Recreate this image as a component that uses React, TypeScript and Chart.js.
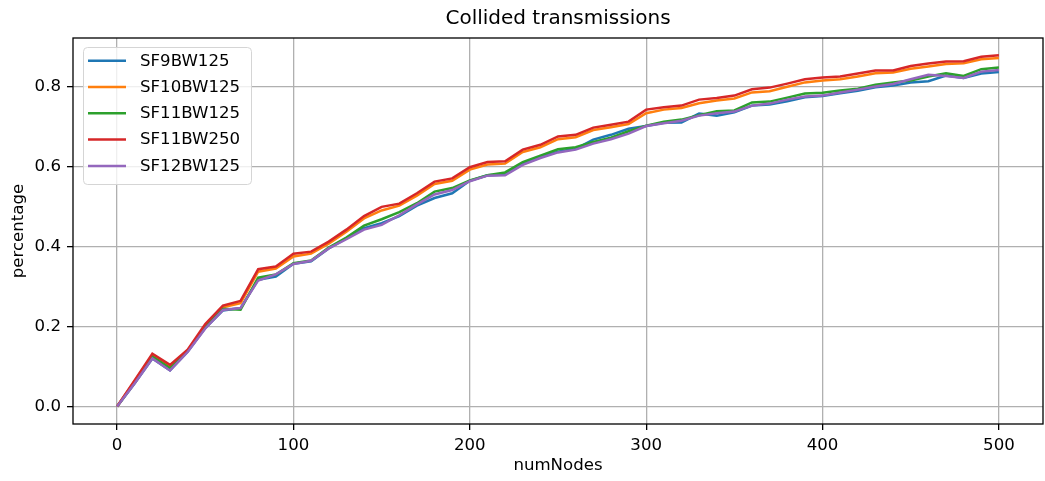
import React, { useEffect, useRef } from "react";
import { Chart, registerables } from "chart.js";

Chart.register(...registerables);

const nodes = [
  0, 10, 20, 30, 40, 50, 60, 70, 80, 90, 100, 110, 120, 130, 140, 150, 160, 170, 180, 190, 200,
  210, 220, 230, 240, 250, 260, 270, 280, 290, 300, 310, 320, 330, 340, 350, 360, 370, 380, 390,
  400, 410, 420, 430, 440, 450, 460, 470, 480, 490, 500,
];

const sf9bw125 = [
  0, 0.058, 0.12, 0.09, 0.137, 0.196, 0.24, 0.246, 0.317, 0.325, 0.357, 0.363, 0.395, 0.42, 0.446,
  0.458, 0.476, 0.502, 0.521, 0.533, 0.564, 0.578, 0.58, 0.606, 0.623, 0.637, 0.644, 0.667, 0.679,
  0.694, 0.701, 0.709, 0.71, 0.732, 0.727, 0.735, 0.752, 0.755, 0.763, 0.773, 0.776, 0.783, 0.789,
  0.798, 0.802, 0.81, 0.813, 0.827, 0.821, 0.832, 0.836,
];

const sf10bw125 = [
  0, 0.064, 0.128, 0.1, 0.14, 0.202, 0.248, 0.258, 0.337, 0.345, 0.375, 0.382, 0.407, 0.437, 0.47,
  0.49, 0.502, 0.527, 0.556, 0.564, 0.592, 0.605, 0.607, 0.636, 0.648, 0.668, 0.673, 0.691, 0.698,
  0.706, 0.733, 0.742, 0.746, 0.758, 0.765, 0.77, 0.785, 0.788, 0.799, 0.81, 0.815, 0.818, 0.825,
  0.833, 0.835, 0.844, 0.85, 0.856, 0.858, 0.868, 0.871,
];

const sf11bw125 = [
  0, 0.06, 0.125, 0.096, 0.139, 0.2, 0.244, 0.242, 0.322, 0.33, 0.358, 0.365, 0.397, 0.422, 0.452,
  0.468, 0.486, 0.508, 0.537, 0.546, 0.565, 0.578, 0.585, 0.611, 0.627, 0.643, 0.648, 0.661, 0.672,
  0.688, 0.702, 0.712, 0.717, 0.728, 0.738, 0.74, 0.76, 0.762, 0.772, 0.782, 0.784, 0.79, 0.794,
  0.804, 0.81, 0.815, 0.825, 0.833, 0.826, 0.843, 0.847,
];

const sf11bw250 = [
  0, 0.066, 0.132, 0.104, 0.142, 0.206, 0.252, 0.264, 0.343, 0.35, 0.382, 0.387, 0.412, 0.442, 0.476,
  0.499, 0.507, 0.533, 0.562, 0.57, 0.598, 0.611, 0.613, 0.642, 0.654, 0.675, 0.679, 0.697, 0.704,
  0.712, 0.742, 0.748, 0.752, 0.767, 0.771, 0.777, 0.793, 0.797, 0.807, 0.818, 0.822, 0.825, 0.832,
  0.84, 0.84, 0.851, 0.857, 0.862, 0.863, 0.874, 0.878,
];

const sf12bw125 = [
  0, 0.058, 0.12, 0.09, 0.136, 0.195, 0.241, 0.246, 0.315, 0.33, 0.356, 0.364, 0.395, 0.418, 0.442,
  0.454, 0.478, 0.505, 0.53, 0.541, 0.563, 0.577, 0.578, 0.604, 0.621, 0.635, 0.642, 0.657, 0.668,
  0.682, 0.701, 0.708, 0.714, 0.727, 0.733, 0.737, 0.752, 0.757, 0.767, 0.775, 0.777, 0.785, 0.792,
  0.8, 0.806, 0.818, 0.829, 0.826, 0.821, 0.837, 0.841,
];

const seriesNames = ["SF9BW125", "SF10BW125", "SF11BW125", "SF11BW250", "SF12BW125"];
const seriesValues = [sf9bw125, sf10bw125, sf11bw125, sf11bw250, sf12bw125];
const seriesColors = ["#1f77b4", "#ff7f0e", "#2ca02c", "#d62728", "#9467bd"];

const xTicks = [0, 100, 200, 300, 400, 500];
const yTicks = [0, 0.2, 0.4, 0.6, 0.8];

const titleText = "Collided transmissions";
const xLabel = "numNodes";
const yLabel = "percentage";

const FONT = "'DejaVu Sans', sans-serif";

const framePlugin = {
  id: "frameAndLegend",
  afterDatasetsDraw(chart: any) {
    const { ctx, chartArea: a } = chart;
    ctx.save();
    // spines
    ctx.strokeStyle = "#000";
    ctx.lineWidth = 1.3;
    ctx.strokeRect(a.left, a.top, a.right - a.left, a.bottom - a.top);

    // legend
    const lx = a.left + 10;
    const ly = a.top + 9;
    const lw = 168;
    const lh = 137;
    ctx.beginPath();
    (ctx as any).roundRect(lx + 0.5, ly + 0.5, lw, lh, 4);
    ctx.fillStyle = "rgba(255,255,255,0.8)";
    ctx.fill();
    ctx.strokeStyle = "#d5d5d5";
    ctx.lineWidth = 1;
    ctx.stroke();

    ctx.font = `16.6px ${FONT}`;
    ctx.textBaseline = "middle";
    ctx.textAlign = "left";
    chart.data.datasets.forEach((ds: any, i: number) => {
      const y = ly + 13.7 + i * 26.3;
      ctx.beginPath();
      ctx.strokeStyle = ds.borderColor;
      ctx.lineWidth = 2.5;
      ctx.moveTo(lx + 5, y);
      ctx.lineTo(lx + 43, y);
      ctx.stroke();
      ctx.fillStyle = "#000";
      ctx.fillText(ds.label, lx + 57, y + 0.5);
    });
    ctx.restore();
  },
};

export default function App() {
  const ref = useRef<HTMLCanvasElement | null>(null);

  useEffect(() => {
    if (!ref.current) return;
    const datasets = seriesNames.map((name, i) => ({
      label: name,
      data: nodes.map((n, j) => ({ x: n, y: seriesValues[i][j] })),
      borderColor: seriesColors[i],
      backgroundColor: seriesColors[i],
      borderWidth: 2.5,
      pointRadius: 0,
      tension: 0,
      fill: false,
      order: seriesNames.length - i,
    }));

    const chart = new Chart(ref.current, {
      type: "line",
      data: { datasets },
      options: {
        responsive: false,
        animation: false,
        layout: { padding: { left: 0, right: 2, top: 0, bottom: 0 } },
        plugins: {
          legend: { display: false },
          tooltip: { enabled: false },
          title: {
            display: true,
            text: titleText,
            fullSize: false,
            color: "#000",
            font: { family: FONT, size: 20, weight: "normal" },
            padding: { top: 7, bottom: 7 },
          },
        },
        scales: {
          x: {
            type: "linear",
            min: -25,
            max: 525,
            afterBuildTicks: (scale: any) => {
              scale.ticks = xTicks.map((v) => ({ value: v }));
            },
            afterFit: (scale: any) => {
              scale.height = 57;
            },
            ticks: {
              autoSkip: false,
              maxRotation: 0,
              color: "#000",
              padding: 6,
              font: { family: FONT, size: 16.6 },
              callback: (v: any) => String(v),
            },
            grid: {
              color: "#b0b0b0",
              lineWidth: 1.3,
              tickLength: 6,
              tickColor: "#000",
              tickWidth: 1.3,
            },
            border: { display: false },
            title: {
              display: true,
              text: xLabel,
              color: "#000",
              font: { family: FONT, size: 16.6 },
              padding: { top: 0, bottom: 5 },
            },
          },
          y: {
            type: "linear",
            min: -0.0438,
            max: 0.921,
            afterBuildTicks: (scale: any) => {
              scale.ticks = yTicks.map((v) => ({ value: v }));
            },
            afterFit: (scale: any) => {
              scale.width = 73;
            },
            ticks: {
              color: "#000",
              padding: 6,
              font: { family: FONT, size: 16.6 },
              callback: (v: any) => Number(v).toFixed(1),
            },
            grid: {
              color: "#b0b0b0",
              lineWidth: 1.3,
              tickLength: 6,
              tickColor: "#000",
              tickWidth: 1.3,
            },
            border: { display: false },
            title: {
              display: true,
              text: yLabel,
              color: "#000",
              font: { family: FONT, size: 16.6 },
              padding: { top: 9, bottom: 0 },
            },
          },
        },
      },
      plugins: [framePlugin],
    });
    return () => chart.destroy();
  }, []);

  return (
    <div style={{ position: "fixed", left: 0, top: 0, width: 1045, height: 481, background: "#fff" }}>
      <canvas ref={ref} width={1045} height={481} style={{ display: "block" }} />
    </div>
  );
}
